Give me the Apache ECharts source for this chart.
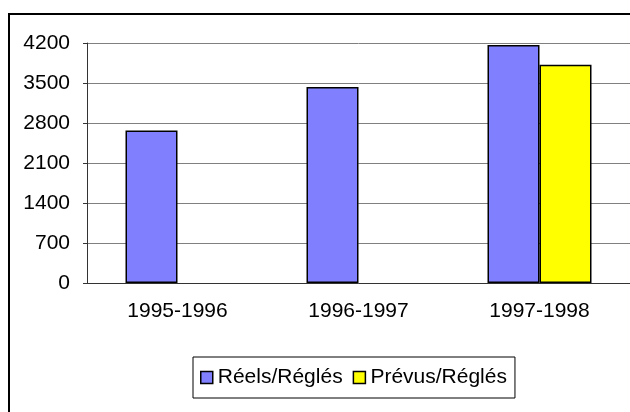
<!DOCTYPE html>
<html lang="fr">

<head>
    <meta charset="UTF-8">
    <title>Réels / Prévus</title>
    <script src="https://cdn.jsdelivr.net/npm/echarts@6/dist/echarts.min.js"></script>
    <style>
        html, body { margin: 0; padding: 0; background: #fff; }
        #app { width: 630px; height: 412px; }
    </style>
</head>

<body>
    <div id="app"></div>
    <script>
        // données
        let categories = ['1995-1996', '1996-1997', '1997-1998']
        let reels = [2670, 3430, 4165]
        let prevus = [null, null, 3820]
        let seriesNames = ['Réels/Réglés', 'Prévus/Réglés']

        let font = 'Liberation Sans, Arial, sans-serif'
        let mCharts = echarts.init(document.getElementById('app'))
        let option = {
            animation: false,
            color: ['#8080FF', '#FFFF00'],
            graphic: [{
                type: 'rect',
                shape: { x: 9, y: 14, width: 700, height: 500 },
                style: { fill: 'none', stroke: '#000', lineWidth: 2 }
            }],
            grid: { left: 87, top: 43, width: 549, height: 240 },
            legend: {
                left: 193,
                top: 357,
                padding: [10, 8, 10, 7],
                borderColor: '#000',
                borderWidth: 1,
                itemWidth: 12,
                itemHeight: 12,
                itemGap: 10,
                icon: 'rect',
                itemStyle: { borderColor: '#000', borderWidth: 1.5 },
                textStyle: { fontFamily: font, fontSize: 21, color: '#000' },
                data: seriesNames
            },
            xAxis: {
                type: 'category',
                data: categories,
                axisLine: { lineStyle: { color: '#333', width: 1 } },
                axisTick: { length: 5, lineStyle: { color: '#333' } },
                axisLabel: { margin: 18, fontFamily: font, fontSize: 21, color: '#000' }
            },
            yAxis: {
                type: 'value',
                min: 0,
                max: 4200,
                interval: 700,
                axisLine: { show: true, lineStyle: { color: '#333', width: 1 } },
                axisTick: { show: true, length: 4, lineStyle: { color: '#333' } },
                splitLine: { lineStyle: { color: '#808080', width: 1 } },
                axisLabel: {
                    margin: 17, fontFamily: font, fontSize: 21, color: '#000',
                    formatter: v => String(v)
                }
            },
            series: [{
                name: seriesNames[0],
                type: 'bar',
                data: reels,
                barWidth: 52,
                barGap: 0,
                itemStyle: { borderColor: '#000', borderWidth: 1.5 }
            }, {
                name: seriesNames[1],
                type: 'bar',
                data: prevus,
                barWidth: 52,
                barGap: 0,
                itemStyle: { borderColor: '#000', borderWidth: 1.5 }
            }]
        }
        mCharts.setOption(option)
    </script>
</body>

</html>
